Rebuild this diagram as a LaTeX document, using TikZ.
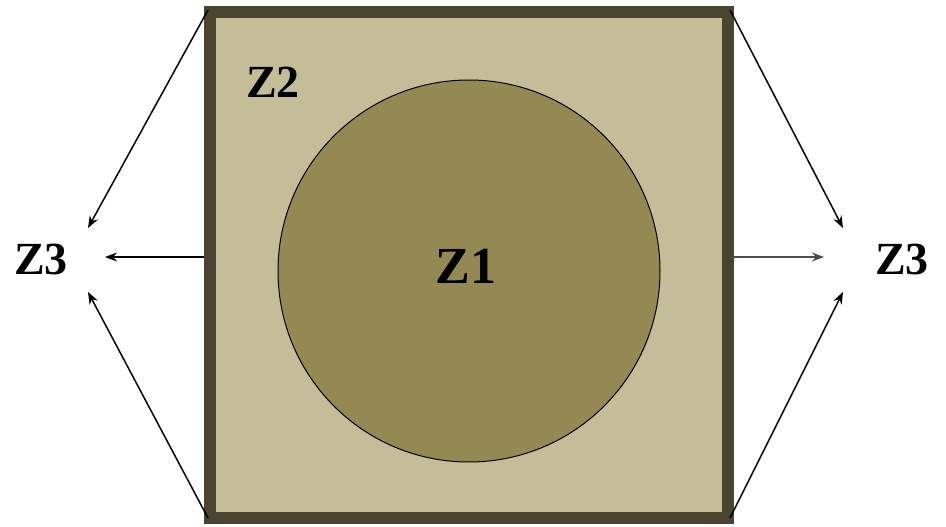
\documentclass[tikz,border=0pt]{standalone}
\usepackage{fontspec}
\setmainfont{Liberation Serif}
\usetikzlibrary{arrows.meta}
\definecolor{boxfill}{HTML}{C5BC98}
\definecolor{boxedge}{HTML}{4A4430}
\definecolor{circfill}{HTML}{958953}
\tikzset{
  arr/.style={draw=black, line width=1.5pt, -{Stealth[length=12pt,width=9pt]}},
  lbl/.style={font=\bfseries\fontsize{46}{46}\selectfont, inner sep=0pt},
}
\begin{document}
\begin{tikzpicture}[x=1pt,y=-1pt]
\useasboundingbox (0,0) rectangle (946,527);
\node[draw=boxedge, fill=boxfill, line width=12pt, minimum width=518pt, minimum height=506pt, inner sep=0pt] (box) at (469,265) {};
\node[circle, draw=black, fill=circfill, line width=1pt, minimum size=382pt, inner sep=0pt] (circ) at (469,271) {};
\node[lbl, font=\bfseries\fontsize{52}{52}\selectfont] (z1) at (466,266) {Z1};
\node[lbl] (z2) at (273,82) {Z2};
\node[lbl] (z3l) at (41,259) {Z3};
\node[lbl] (z3r) at (902,259) {Z3};
\coordinate (lt) at (88,228);
\coordinate (lm) at (105,257);
\coordinate (lb) at (88,292);
\coordinate (rt) at (843,228);
\coordinate (rm) at (824,257);
\coordinate (rb) at (843,292);
\draw[arr] (box.north west) ++(4,4) -- (lt);
\draw[arr] (box.west) ++(0,-8) -- (lm);
\draw[arr] (box.south west) ++(4,-6) -- (lb);
\draw[arr] (box.north east) ++(-4,4) -- (rt);
\draw[arr, draw=black!70] (box.east) ++(0,-8) -- (rm);
\draw[arr] (box.south east) ++(-4,-6) -- (rb);
\end{tikzpicture}
\end{document}
